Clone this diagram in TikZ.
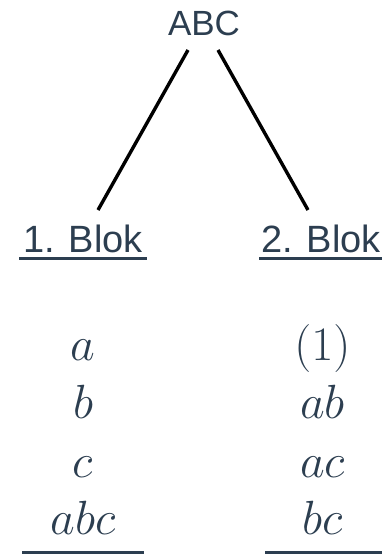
\RequirePackage{fix-cm}
\documentclass[tikz,border=0pt]{standalone}
\usepackage{fontspec}
\newfontfamily\labelfont{Liberation Sans}
\definecolor{ink}{HTML}{2C3E50}
\begin{document}
\begin{tikzpicture}[x=1pt,y=-1pt,
  lbl/.style={text=ink,font=\labelfont\fontsize{35}{40}\selectfont,inner sep=0pt,anchor=base},
  blk/.style={text=ink,font=\labelfont\fontsize{38}{44}\selectfont,inner sep=0pt,anchor=base},
  mth/.style={text=ink,font=\fontsize{48}{58}\selectfont,inner sep=0pt,anchor=base},
  edge/.style={draw=black,line width=3.4pt},
  rule/.style={draw=ink,line width=3pt}]
\useasboundingbox (0,0) rectangle (388,554);
\node[lbl] (root) at (204,35) {ABC};
\node[blk] (b1) at (83,252) {1. Blok};
\node[blk] (b2) at (321,252) {2. Blok};
\coordinate (r1) at (188,50);
\coordinate (r2) at (218,50);
\coordinate (e1) at (98,210);
\coordinate (e2) at (308,210);
\draw[edge] (r1) -- (e1);
\draw[edge] (r2) -- (e2);
\coordinate (u1a) at (19,258.5); \coordinate (u1b) at (147,258.5);
\coordinate (u2a) at (259,258.5); \coordinate (u2b) at (382,258.5);
\draw[rule] (u1a) -- (u1b);
\draw[rule] (u2a) -- (u2b);
\node[mth] (a) at (83,360) {$a$};
\node[mth] (b) at (83,418.5) {$b$};
\node[mth] (c) at (83,477) {$c$};
\node[mth] (abc) at (83,534.5) {$abc$};
\node[mth] (one) at (322.5,360) {$(1)$};
\node[mth] (ab) at (322.5,418.5) {$ab$};
\node[mth] (ac) at (322.5,477) {$ac$};
\node[mth] (bc) at (322.5,534.5) {$bc$};
\coordinate (l1a) at (22,552.5); \coordinate (l1b) at (144,552.5);
\coordinate (l2a) at (265,552.5); \coordinate (l2b) at (382,552.5);
\draw[rule] (l1a) -- (l1b);
\draw[rule] (l2a) -- (l2b);
\end{tikzpicture}
\end{document}
